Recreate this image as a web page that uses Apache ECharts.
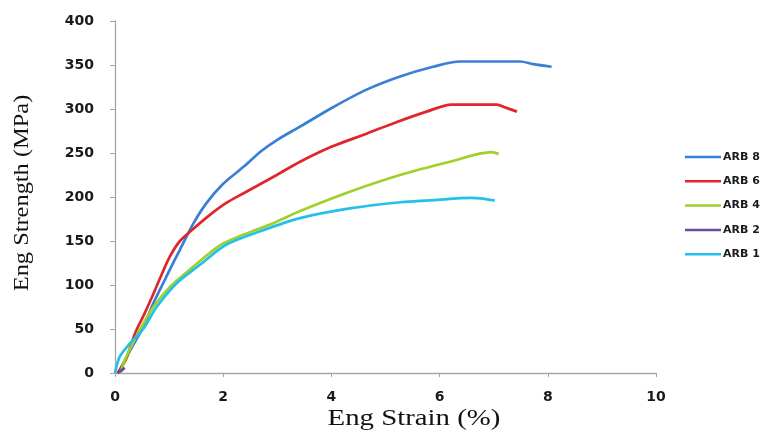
<!DOCTYPE html>
<html>
<head>
<meta charset="utf-8">
<script src="https://cdn.jsdelivr.net/npm/echarts@6/dist/echarts.min.js"></script>
<style>html,body{margin:0;padding:0;background:#fff;}#c{width:761px;height:430px;}</style>
</head>
<body>
<div id="c"></div>
<script>
var seriesNames = ['ARB 8', 'ARB 6', 'ARB 4', 'ARB 2', 'ARB 1'];
var xTicks = [0, 2, 4, 6, 8, 10];
var yTicks = [0, 50, 100, 150, 200, 250, 300, 350, 400];

var arb8 = [[0.05,0],[0.1,5],[0.3,28],[0.52,52],[0.7,78],[0.89,102],[1.05,122],[1.2,140],[1.45,170],[1.69,193],[2.0,215],[2.37,234],[2.7,252],[3.0,265],[3.42,280],[4.03,302],[4.65,322],[5.27,337],[5.88,348],[6.38,354],[7.0,354],[7.49,354],[7.73,351],[8.07,348]];
var arb6 = [[0.05,0],[0.2,15],[0.37,45],[0.55,68],[0.71,90],[0.87,113],[1.02,133],[1.2,150],[1.45,164],[1.76,180],[2.05,193],[2.37,204],[2.99,225],[3.42,240],[4.0,257],[4.65,272],[5.2,285],[5.76,297],[6.22,305],[6.6,305],[7.06,305],[7.2,302],[7.43,297]];
var arb4 = [[0.1,0],[0.22,20],[0.46,49],[0.71,75],[1.02,98],[1.45,121],[1.94,145],[2.37,157],[2.99,172],[3.42,184],[4.34,206],[5.27,225],[6.19,240],[6.96,251],[7.09,249]];
var arb2 = [[0.05,0],[0.12,3],[0.18,6]];
var arb1 = [[0,0],[0.04,10],[0.09,19],[0.28,34],[0.52,50],[0.77,75],[1.14,102],[1.57,123],[2.06,146],[2.68,161],[3.42,176],[4.34,187],[5.27,194],[5.88,196.5],[6.59,199],[6.75,198.5],[7.02,196]];

var seriesData = [arb8, arb6, arb4, arb2, arb1];
var colors = ['#3a7fd6', '#e0262b', '#a2d02a', '#6a49a6', '#22c1e6'];

var chart = echarts.init(document.getElementById('c'), null, {renderer: 'canvas'});
var tickStyle = {fontFamily: 'DejaVu Sans', fontWeight: 'bold', fontSize: 14, color: '#1a1a1a'};
var axisLine = {show: true, lineStyle: {color: '#a6a6a6', width: 1.3}};

chart.setOption({
  animation: false,
  backgroundColor: '#fff',
  color: colors,
  grid: {left: 115, right: 105, top: 21, bottom: 57, containLabel: false},
  xAxis: {
    type: 'value', min: xTicks[0], max: xTicks[xTicks.length - 1], interval: 2,
    axisLine: axisLine,
    axisTick: {show: true, inside: false, length: 4, lineStyle: {color: '#a6a6a6'}},
    splitLine: {show: false},
    axisLabel: Object.assign({margin: 17}, tickStyle)
  },
  yAxis: {
    type: 'value', min: yTicks[0], max: yTicks[yTicks.length - 1], interval: 50,
    axisLine: axisLine,
    axisTick: {show: true, inside: false, length: 5, lineStyle: {color: '#a6a6a6'}},
    splitLine: {show: false},
    axisLabel: Object.assign({margin: 21}, tickStyle)
  },
  legend: {
    orient: 'vertical', left: 680, top: 145,
    icon: 'rect', itemWidth: 36, itemHeight: 2.5, itemGap: 10.3,
    data: seriesNames,
    textStyle: {fontFamily: 'DejaVu Sans', fontWeight: 'bold', fontSize: 11, lineHeight: 14, color: '#1a1a1a', padding: [0, 0, 0, -3]}
  },
  graphic: [
    {type: 'text', x: 414, y: 419, scaleX: 1.2, scaleY: 1, z: 10,
     style: {text: 'Eng Strain (%)', font: '24px "Liberation Serif"', fill: '#111', textAlign: 'center', textVerticalAlign: 'middle'}},
    {type: 'text', x: 23, y: 193, rotation: Math.PI / 2, scaleX: 1.22, scaleY: 1, z: 10,
     style: {text: 'Eng Strength (MPa)', font: '20px "Liberation Serif"', fill: '#111', textAlign: 'center', textVerticalAlign: 'middle'}}
  ],
  series: seriesNames.map(function (n, i) {
    return {
      name: n, type: 'line', data: seriesData[i], symbol: 'none', smooth: 0.3,
      lineStyle: {width: 2.7, color: colors[i]}, itemStyle: {color: colors[i]}
    };
  })
});
</script>
</body>
</html>
